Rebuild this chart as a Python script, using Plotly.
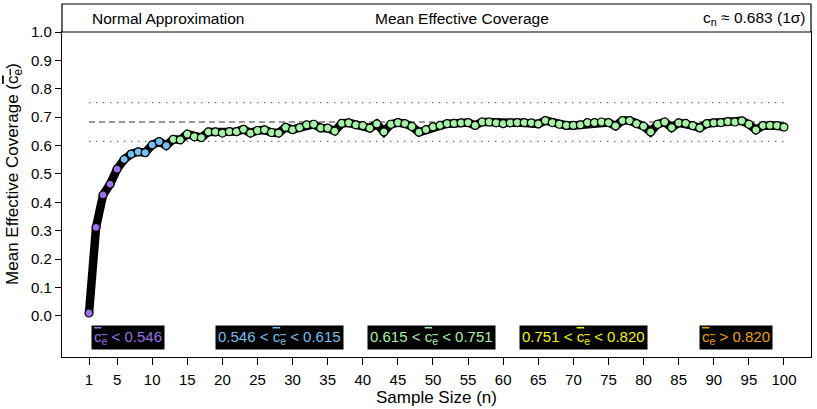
import plotly.graph_objects as go

sample_size = list(range(1, 101))
mean_coverage = [
    0.010, 0.312, 0.426, 0.464, 0.517, 0.551, 0.570, 0.578, 0.575, 0.602,
    0.614, 0.600, 0.622, 0.620, 0.640, 0.631, 0.628, 0.648, 0.648, 0.644,
    0.649, 0.649, 0.657, 0.644, 0.653, 0.655, 0.646, 0.644, 0.664, 0.656,
    0.663, 0.673, 0.675, 0.662, 0.661, 0.651, 0.678, 0.680, 0.673, 0.670,
    0.661, 0.676, 0.648, 0.675, 0.681, 0.677, 0.667, 0.647, 0.656, 0.666,
    0.671, 0.677, 0.678, 0.680, 0.681, 0.671, 0.683, 0.683, 0.680, 0.677,
    0.680, 0.681, 0.681, 0.680, 0.676, 0.688, 0.681, 0.675, 0.671, 0.671,
    0.673, 0.681, 0.681, 0.683, 0.681, 0.669, 0.688, 0.688, 0.677, 0.668,
    0.648, 0.675, 0.683, 0.663, 0.680, 0.678, 0.670, 0.662, 0.677, 0.680,
    0.681, 0.684, 0.683, 0.687, 0.675, 0.655, 0.670, 0.671, 0.670, 0.665,
]
nominal = 0.683
band_edges = [0.546, 0.615, 0.751, 0.820]
band_colors = ["#9B70E8", "#72C2F2", "#A6F2A6", "#F5F500", "#F0A000"]
CE = "<span style='text-decoration:overline'>c<sub>e</sub></span>"
band_labels = [
    CE + " &lt; 0.546",
    "0.546 &lt; " + CE + " &lt; 0.615",
    "0.615 &lt; " + CE + " &lt; 0.751",
    "0.751 &lt; " + CE + " &lt; 0.820",
    CE + " &gt; 0.820",
]
label_x = [6.55, 28.2, 49.85, 71.5, 93.15]
x_ticks = [1] + list(range(5, 101, 5))
y_ticks = [i / 10 for i in range(11)]


def band_of(v):
    k = 0
    for e in band_edges:
        if v >= e:
            k += 1
    return k


marker_colors = [band_colors[band_of(v)] for v in mean_coverage]

FONT = "Liberation Sans, Arial, sans-serif"
fig = go.Figure()

# reference lines
fig.add_trace(go.Scatter(x=[1, 100], y=[band_edges[2]] * 2, mode="lines",
                         line=dict(color="#666666", width=1.3, dash="1.3px,5.7px"), hoverinfo="skip"))
fig.add_trace(go.Scatter(x=[1, 100], y=[band_edges[1]] * 2, mode="lines",
                         line=dict(color="#666666", width=1.3, dash="1.3px,5.7px"), hoverinfo="skip"))
fig.add_trace(go.Scatter(x=[1, 100], y=[nominal] * 2, mode="lines",
                         line=dict(color="#333333", width=1.2, dash="6px,4px"), hoverinfo="skip"))

# thick black line
fig.add_trace(go.Scatter(x=sample_size, y=mean_coverage, mode="lines",
                         line=dict(color="black", width=8.5), hoverinfo="skip"))
fig.add_trace(go.Scatter(x=sample_size, y=mean_coverage, mode="markers",
                         marker=dict(color=marker_colors, size=8,
                                     line=dict(color="black", width=1.2))))

# legend boxes
for lx, lab, col in zip(label_x, band_labels, band_colors):
    fig.add_annotation(x=lx, y=-0.076, xref="x", yref="y", text=lab, showarrow=False,
                       xanchor="center", yanchor="middle",
                       font=dict(family=FONT, size=15, color=col), bgcolor="black",
                       borderpad=2)

# header box
HY = 1 + 14 / 325
fig.add_shape(type="rect", xref="paper", yref="paper", x0=0, x1=1, y0=1, y1=1 + 28 / 325,
              line=dict(color="black", width=1.2), fillcolor="white")
fig.add_annotation(x=(90 - 62) / 749, y=HY, xref="paper", yref="paper",
                   text="Normal Approximation", showarrow=False, xanchor="left", yanchor="middle",
                   font=dict(family=FONT, size=15.5, color="black"))
fig.add_annotation(x=(462 - 62) / 749, y=HY, xref="paper", yref="paper",
                   text="Mean Effective Coverage", showarrow=False, xanchor="center", yanchor="middle",
                   font=dict(family=FONT, size=15.5, color="black"))
fig.add_annotation(x=(808 - 62) / 749, y=HY, xref="paper", yref="paper",
                   text="c<sub>n</sub> ≈ 0.683 (1σ)", showarrow=False, xanchor="right", yanchor="middle",
                   font=dict(family=FONT, size=15.5, color="black"))

# axis titles
fig.add_annotation(x=-48 / 749, y=0.5, xref="paper", yref="y",
                   text="Mean Effective Coverage (" + CE + ")", showarrow=False,
                   xanchor="center", yanchor="middle",
                   textangle=-90, font=dict(family=FONT, size=17, color="black"))
fig.add_annotation(x=0.5, y=-(397 - 357) / 325, xref="paper", yref="paper",
                   text="Sample Size (n)", showarrow=False, xanchor="center", yanchor="middle",
                   font=dict(family=FONT, size=17, color="black"))

fig.update_layout(
    width=817, height=409,
    margin=dict(l=62, r=6, t=32, b=52),
    paper_bgcolor="white", plot_bgcolor="white",
    showlegend=False,
    font=dict(family=FONT, size=15, color="black"),
    xaxis=dict(range=[-2.85, 103.85], tickvals=x_ticks, ticks="outside", ticklen=7,
               tickcolor="black", showgrid=False, zeroline=False, showline=True,
               linecolor="black", linewidth=1.2, mirror=True, ticklabelstandoff=2,
               tickfont=dict(family=FONT, size=15)),
    yaxis=dict(range=[-0.145, 1.0], tickvals=y_ticks, tickformat=".1f", ticks="outside",
               ticklen=6, tickcolor="black", showgrid=False, zeroline=False, showline=True,
               linecolor="black", linewidth=1.2, mirror=True,
               tickfont=dict(family=FONT, size=15)),
)

fig.write_html("out.html", config={"displayModeBar": False},
               post_script="document.body.style.margin='0';")
